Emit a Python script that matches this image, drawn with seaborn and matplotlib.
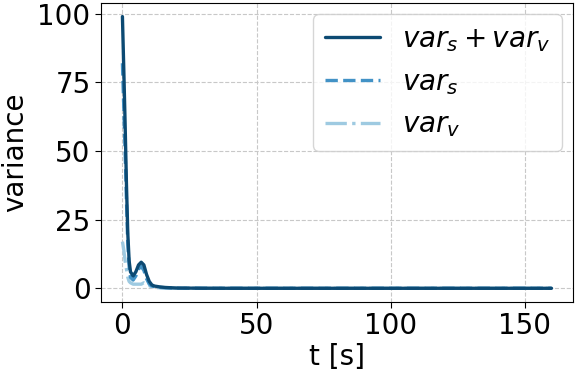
import numpy as np
import pandas as pd
import matplotlib
matplotlib.use('Agg')
import matplotlib.pyplot as plt
import seaborn as sns

t = [0, 0.5, 1, 1.5, 2, 2.5, 3, 4, 5, 6, 7, 8, 9, 10, 11, 12, 14, 16, 20, 30, 40, 60, 80, 100, 120, 140, 160]
var_total = [99, 80, 60, 38, 20, 10, 6, 4.5, 6, 8.5, 9.5, 8.5, 5, 2.5, 1.2, 0.8, 0.5, 0.3, 0.1, 0.02, 0, 0, 0, 0, 0, 0, 0]
var_s = [82, 66, 50, 32, 16, 8, 4, 3, 4.5, 7, 8, 6.5, 3.5, 1.5, 0.8, 0.5, 0.3, 0.2, 0.05, 0.01, 0, 0, 0, 0, 0, 0, 0]
var_v = [17, 14, 10, 7, 4, 2.5, 2, 1.5, 1.5, 1.5, 1.5, 2, 1.5, 1, 0.4, 0.3, 0.2, 0.1, 0.05, 0.01, 0, 0, 0, 0, 0, 0, 0]

sns.set_style('whitegrid', {'grid.linestyle': '--', 'grid.color': '#c8c8c8', 'axes.edgecolor': 'black',
                            'text.color': 'black', 'axes.labelcolor': 'black',
                            'xtick.color': 'black', 'ytick.color': 'black'})
plt.rcParams['font.size'] = 20

df = pd.DataFrame({'t': t, 'total': var_total, 's': var_s, 'v': var_v})

fig, ax = plt.subplots(figsize=(5.77, 3.75), dpi=100)
# total drawn on top so it hides the other two once they flatten out
sns.lineplot(data=df, x='t', y='total', color='#0c4a73', linewidth=2.4, label=r'$var_s + var_v$', ax=ax, zorder=4)
sns.lineplot(data=df, x='t', y='s', color='#4292c6', linewidth=2.4, linestyle='--', label=r'$var_s$', ax=ax, zorder=3)
sns.lineplot(data=df, x='t', y='v', color='#9ecae1', linewidth=2.4, linestyle='-.', label=r'$var_v$', ax=ax, zorder=2)

ax.set_xlabel('t [s]', fontsize=20, labelpad=2)
ax.set_ylabel('variance', fontsize=20, labelpad=6)
ax.set_xticks([0, 50, 100, 150])
ax.set_yticks([0, 25, 50, 75, 100])
ax.tick_params(labelsize=20, length=4, left=True, bottom=True)
for s in ax.spines.values():
    s.set_color('black')
ax.legend(fontsize=20, loc='upper right', borderaxespad=0.4, handlelength=2)
fig.subplots_adjust(left=0.175, right=0.993, top=0.992, bottom=0.195)
plt.savefig('out.png')
